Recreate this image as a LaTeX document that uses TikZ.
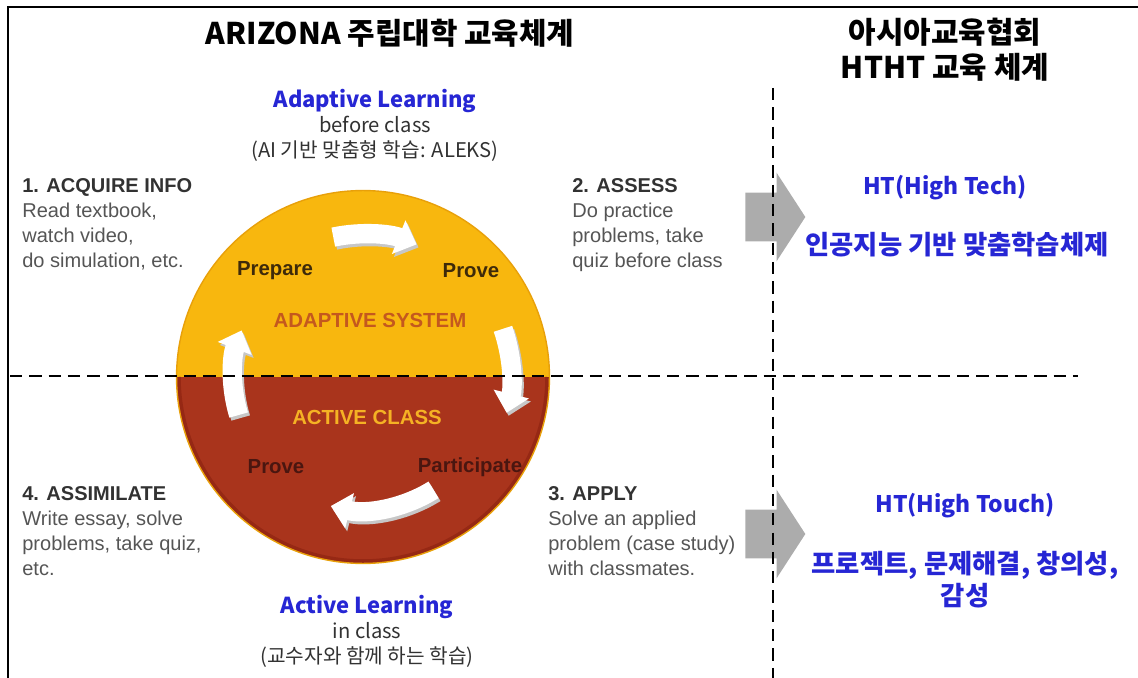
\documentclass[tikz,border=0pt]{standalone}
\usepackage{fontspec}
\setmainfont{Liberation Sans}
\newfontfamily\krfont{Noto Sans CJK KR}
\usetikzlibrary{arrows.meta,shapes.arrows}

\definecolor{discyellow}{RGB}{248,183,14}
\definecolor{discred}{RGB}{169,52,28}
\definecolor{rimyellow}{RGB}{232,160,10}
\definecolor{rimred}{RGB}{150,40,20}
\definecolor{sysorange}{RGB}{196,88,30}
\definecolor{classyellow}{RGB}{245,178,36}
\definecolor{stepbrown}{RGB}{62,42,10}
\definecolor{stepdark}{RGB}{74,22,16}
\definecolor{kblue}{RGB}{38,38,212}
\definecolor{descgray}{RGB}{85,85,85}
\definecolor{headgray}{RGB}{50,50,50}
\definecolor{blockgray}{RGB}{172,172,172}

\tikzset{
    every node/.style={inner sep=0pt},
    heading/.style={font=\krfont\bfseries\fontsize{17}{20}\selectfont, text=black, align=center},
    learning/.style={font=\krfont\fontsize{11.5}{14.2}\selectfont, text=headgray, align=center},
    desc/.style={anchor=north west, align=left, text=descgray, font=\fontsize{11.4}{14.2}\selectfont},
    steplabel/.style={font=\bfseries\fontsize{11.6}{14}\selectfont},
    hilabel/.style={font=\krfont\bfseries\fontsize{13}{16}\selectfont, text=kblue, align=center},
    hitext/.style={font=\krfont\bfseries\fontsize{15}{18.2}\selectfont, text=kblue, align=center},
    disc/.style={circle, minimum size=7.46cm, draw=rimyellow, line width=0.8pt,
        path picture={
            \fill[discyellow] (path picture bounding box.north west) rectangle (path picture bounding box.east);
            \fill[discred] (path picture bounding box.west) rectangle (path picture bounding box.south east);
            \draw[rimred, line width=2pt] (path picture bounding box.center) ++(0:184) arc[start angle=0, end angle=180, radius=184];
        }},
    cycle/.style={white, line width=11pt, -{Triangle[length=11pt, width=20pt]}},
    cycleshade/.style={cycle, black!22},
    bigarrow/.style={single arrow, fill=blockgray, anchor=tail, inner xsep=0pt, inner ysep=0.48cm,
        minimum height=1.2cm, single arrow head extend=0.4cm, single arrow tip angle=114},
    divider/.style={line width=1.5pt, dash pattern=on 7pt off 4pt}
}

\begin{document}
\begin{tikzpicture}[x=0.02cm, y=-0.02cm]
\useasboundingbox (0,0) rectangle (1138,678);

% frame (top and left only)
\draw[line width=1.2pt] (8,678) -- (8,7) -- (1138,7);

% titles
\node (arizona) [heading] at (390,33) {ARIZONA 주립대학 교육체계};
\node (asia) [heading] at (945,50) {아시아교육협회\\HTHT 교육 체계};

% the cycle disc
\node (disc) [disc] at (363,377) {};
\coordinate (c) at (363,377);

\draw[cycleshade] (c) ++(-102:143) ++(2,3) arc[start angle=-102, end angle=-68, radius=143];
\draw[cycle] (c) ++(-102:143) arc[start angle=-102, end angle=-68, radius=143];
\draw[cycleshade] (c) ++(-19:148) ++(2,3) arc[start angle=-19, end angle=14, radius=148];
\draw[cycle] (c) ++(-19:148) arc[start angle=-19, end angle=14, radius=148];
\draw[cycleshade] (c) ++(58:133) ++(2,3) arc[start angle=58, end angle=104, radius=133];
\draw[cycle] (c) ++(58:133) arc[start angle=58, end angle=104, radius=133];
\draw[cycleshade] (c) ++(163:130) ++(2,3) arc[start angle=163, end angle=201, radius=130];
\draw[cycle] (c) ++(163:130) arc[start angle=163, end angle=201, radius=130];

\node (prepare) [steplabel, text=stepbrown] at (275,271) {Prepare};
\node (prove1) [steplabel, text=stepbrown] at (471,271) {Prove};
\node (system) [steplabel, text=sysorange] at (370,320) {ADAPTIVE SYSTEM};
\node (class) [steplabel, text=classyellow] at (367,417) {ACTIVE CLASS};
\node (prove2) [steplabel, text=stepdark] at (276,467) {Prove};
\node (participate) [steplabel, text=stepdark] at (470,467) {Participate};

% learning captions
\node (adaptive) [learning] at (375,125)
    {{\bfseries\fontsize{12.5}{14.2}\selectfont\color{kblue}Adaptive Learning}\\before class\\(AI 기반 맞춤형 학습: ALEKS)};
\node (active) [learning] at (367,631)
    {{\bfseries\fontsize{12.5}{14.2}\selectfont\color{kblue}Active Learning}\\in class\\(교수자와 함께 하는 학습)};

% the four steps
\node (acquire) [desc] at (22,178)
    {\textcolor{headgray}{\bfseries 1. ACQUIRE INFO}\\Read textbook,\\watch video,\\do simulation, etc.};
\node (assess) [desc] at (572,178)
    {\textcolor{headgray}{\bfseries 2. ASSESS}\\Do practice\\problems, take\\quiz before class};
\node (apply) [desc] at (548,486)
    {\textcolor{headgray}{\bfseries 3. APPLY}\\Solve an applied\\problem (case study)\\with classmates.};
\node (assimilate) [desc] at (22,486)
    {\textcolor{headgray}{\bfseries 4. ASSIMILATE}\\Write essay, solve\\problems, take quiz,\\etc.};

% HTHT side
\node (tech) [bigarrow] at (745,217) {};
\node (touch) [bigarrow] at (745,534) {};
\node (hitech) [hilabel] at (945,188) {HT(High Tech)};
\node (hitechtext) [hitext] at (957,245) {인공지능 기반 맞춤학습체제};
\node (hitouch) [hilabel] at (965,506) {HT(High Touch)};
\node (hitouchtext) [hitext] at (965,580) {프로젝트, 문제해결, 창의성,\\감성};

% dividers
\draw[divider] (10,376) -- (1078,376);
\draw[divider] (773,88) -- (773,678);
\end{tikzpicture}
\end{document}
